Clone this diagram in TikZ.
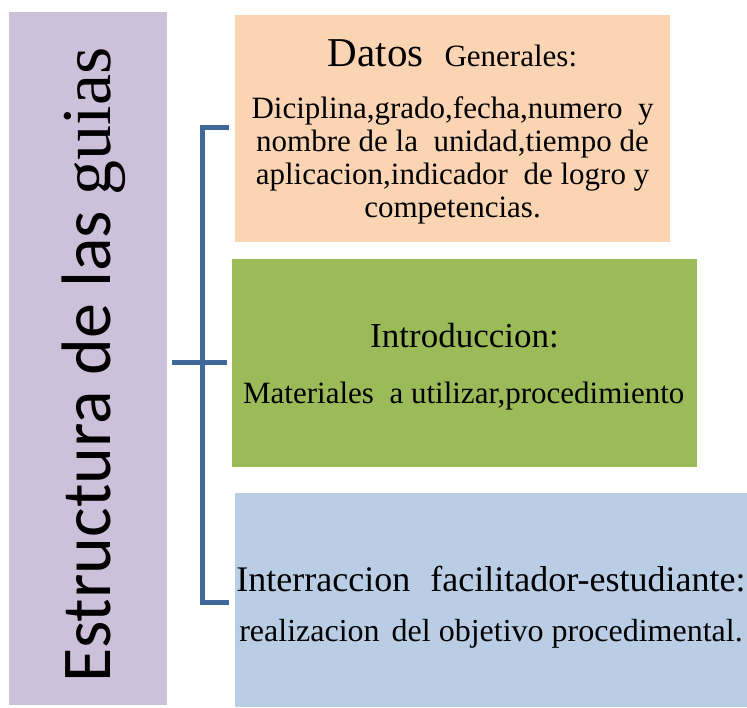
\documentclass[tikz,border=0pt]{standalone}
\usepackage{fontspec}
\setmainfont{Liberation Serif}
\newfontfamily\calibri{Carlito}
\usetikzlibrary{positioning}

\definecolor{lila}{HTML}{CCC0DA}
\definecolor{durazno}{HTML}{FBD4B4}
\definecolor{verde}{HTML}{9BBB59}
\definecolor{celeste}{HTML}{B9CDE5}
\definecolor{azul}{HTML}{41689A}

\begin{document}
\begin{tikzpicture}[x=1pt, y=1pt,
		caja/.style={draw=none, inner sep=0pt, outer sep=0pt, anchor=south west},
		titulo/.style={anchor=base, inner sep=0pt, font=\fontsize{35}{35}\selectfont},
		cuerpo/.style={anchor=base, inner sep=0pt, font=\fontsize{31}{31}\selectfont},
		llave/.style={draw=azul, line width=5pt}]
		% 固定画布大小
		\useasboundingbox (0, 0) rectangle (747, 707);

		% 左边的竖条和竖排标题
		\node[caja, fill=lila, minimum width=158pt, minimum height=693pt] (estructura) at (9, 2) {};
		\node[rotate=90, anchor=base west, inner sep=0pt, font=\fontsize{70}{70}\selectfont] (rotulo) at (110, 24) {{\calibri Estructura de las }guias};

		% 右边的三个盒子
		\node[caja, fill=durazno, minimum width=435pt, minimum height=227pt] (datos) at (235, 465) {};
		\node[caja, fill=verde, minimum width=465pt, minimum height=208pt] (intro) at (232, 240) {};
		\node[caja, fill=celeste, minimum width=512pt, minimum height=214pt] (inter) at (235, 0) {};

		% 第一个盒子的文字
		\node[anchor=base, inner sep=0pt] (datos-t) at ([yshift=-52pt]datos.north) {{\fontsize{41}{41}\selectfont Datos}\hspace{21pt}{\fontsize{31}{31}\selectfont Generales:}};
		\foreach \linea [count=\i] in {{Diciplina,grado,fecha,numero~ y}, {nombre de la~ unidad,tiempo de}, {aplicacion,indicador~ de logro y}, {competencias.}} {
				\node[cuerpo] (datos-\i) at ([yshift={-104pt-32.7pt*(\i-1)}]datos.north) {\linea};
			}

		% 第二个盒子的文字
		\node[titulo] (intro-t) at ([yshift=-89pt]intro.north) {Introduccion:};
		\node[cuerpo] (intro-c) at ([yshift=-145pt]intro.north) {Materiales~ a utilizar,procedimiento{\fontsize{6}{6}\selectfont\color{white}.}};

		% 第三个盒子的文字
		\node[titulo, font=\fontsize{36}{36}\selectfont] (inter-t) at ([yshift=-99pt]inter.north) {Interraccion\hspace{20pt}facilitador-estudiante:};
		\node[cuerpo, font=\fontsize{32}{32}\selectfont] (inter-c) at ([yshift=-149pt]inter.north) {realizacion\hspace{12pt}del objetivo procedimental.};

		% 大括号
		\coordinate (arriba) at (229, 579);
		\coordinate (abajo) at (229, 104);
		\coordinate (centro) at (172, 344);
		\draw[llave] (arriba) -- ++(-27, 0) |- (abajo);
		\draw[llave] (centro) -- ++(55, 0);
	\end{tikzpicture}
\end{document}
